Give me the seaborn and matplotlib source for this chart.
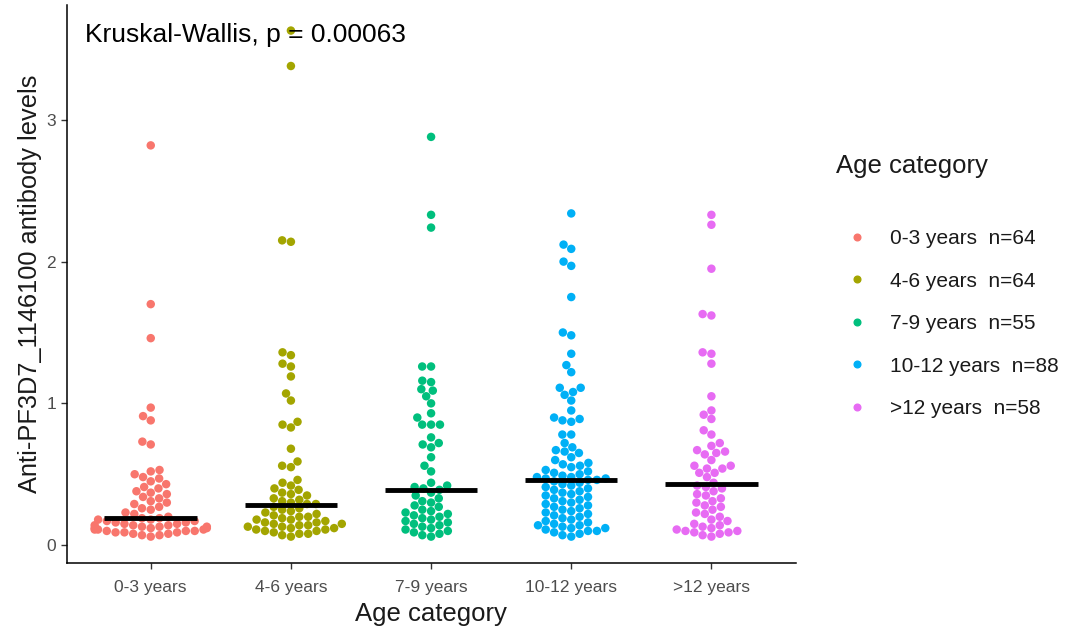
import numpy as np
import pandas as pd
import seaborn as sns
from matplotlib import pyplot as plt
from matplotlib.lines import Line2D

sns.set_style('white')
plt.rcParams['font.family'] = ['Liberation Sans', 'DejaVu Sans']

categories = ['0-3 years', '4-6 years', '7-9 years', '10-12 years', '>12 years']
colors = ['#F8766D', '#A3A500', '#00BF7D', '#00B0F6', '#E76BF3']

age_0_3 = [2.82, 1.70, 1.46, 0.97, 0.91, 0.88, 0.73, 0.71,
           0.53, 0.52, 0.50, 0.48, 0.47, 0.45, 0.43, 0.41, 0.40, 0.38, 0.37, 0.36,
           0.34, 0.33, 0.31, 0.30, 0.29, 0.27, 0.26, 0.25, 0.23, 0.22, 0.20,
           0.19, 0.19,
           0.18, 0.18, 0.17, 0.17, 0.16, 0.16, 0.15, 0.15, 0.14, 0.14, 0.14,
           0.13, 0.13, 0.13, 0.12, 0.12, 0.12, 0.11, 0.11, 0.11, 0.10, 0.10, 0.10,
           0.09, 0.09, 0.09, 0.08, 0.08, 0.07, 0.07, 0.06]
age_4_6 = [3.63, 3.38, 2.15, 2.14, 1.36, 1.34, 1.28, 1.26, 1.19, 1.07, 1.02,
           0.87, 0.85, 0.83, 0.68, 0.59, 0.56, 0.55,
           0.46, 0.44, 0.42, 0.40, 0.39, 0.37, 0.36, 0.35, 0.33, 0.32, 0.31, 0.30,
           0.29, 0.29,
           0.27, 0.26, 0.25, 0.24, 0.23, 0.22, 0.21, 0.20, 0.20, 0.19, 0.18, 0.18,
           0.17, 0.16, 0.16, 0.15, 0.15, 0.14, 0.14, 0.13, 0.13, 0.12, 0.12,
           0.11, 0.11, 0.10, 0.10, 0.09, 0.08, 0.08, 0.07, 0.06]
age_7_9 = [2.88, 2.33, 2.24, 1.26, 1.26, 1.16, 1.15, 1.10, 1.09, 1.05, 1.00,
           0.93, 0.90, 0.85, 0.85, 0.85, 0.76, 0.72, 0.71, 0.69, 0.62, 0.56, 0.52,
           0.44, 0.42, 0.41, 0.40, 0.39,
           0.37, 0.35, 0.33, 0.31, 0.30, 0.28, 0.27, 0.25, 0.24, 0.23, 0.22, 0.21,
           0.20, 0.19, 0.18, 0.17, 0.16, 0.15, 0.14, 0.13, 0.12, 0.11, 0.10, 0.09,
           0.08, 0.07, 0.06]
age_10_12 = [2.34, 2.12, 2.09, 2.00, 1.97, 1.75, 1.50, 1.48, 1.35, 1.27, 1.22,
             1.11, 1.11, 1.08, 1.06, 1.02, 0.95, 0.90, 0.89, 0.88, 0.87,
             0.78, 0.78, 0.72, 0.69, 0.67, 0.66, 0.65, 0.62, 0.60, 0.58, 0.57,
             0.56, 0.55, 0.53, 0.52, 0.51, 0.50, 0.49, 0.48, 0.48, 0.47, 0.47, 0.46,
             0.46, 0.45, 0.44, 0.43, 0.42, 0.41, 0.40, 0.39, 0.38, 0.37, 0.36, 0.35,
             0.34, 0.33, 0.32, 0.31, 0.30, 0.29, 0.28, 0.27, 0.26, 0.25, 0.24, 0.23,
             0.22, 0.21, 0.20, 0.19, 0.18, 0.17, 0.16, 0.15, 0.14, 0.14, 0.13, 0.12,
             0.12, 0.11, 0.10, 0.10, 0.09, 0.08, 0.07, 0.06]
age_12_plus = [2.33, 2.26, 1.95, 1.63, 1.62, 1.36, 1.35, 1.28, 1.05, 0.95, 0.92,
               0.89, 0.81, 0.78, 0.72, 0.70, 0.67, 0.66, 0.65, 0.64, 0.60, 0.56,
               0.56, 0.54, 0.54, 0.51, 0.51, 0.48, 0.44,
               0.42, 0.41, 0.40, 0.38, 0.36, 0.35, 0.33, 0.31, 0.30, 0.28, 0.27,
               0.25, 0.23, 0.22, 0.20, 0.18, 0.17, 0.15, 0.14, 0.13, 0.12, 0.11,
               0.10, 0.10, 0.09, 0.09, 0.08, 0.07, 0.06]

groups = [age_0_3, age_4_6, age_7_9, age_10_12, age_12_plus]
p_text = 'Kruskal-Wallis, p = 0.00063'

df = pd.concat([pd.DataFrame({'age': cat, 'level': vals})
                for cat, vals in zip(categories, groups)], ignore_index=True)
df['age'] = pd.Categorical(df['age'], categories=categories, ordered=True)

fig = plt.figure(figsize=(10.75, 6.32), dpi=100)
ax = fig.add_axes([0.062, 0.109, 0.678, 0.883])

sns.swarmplot(data=df, x='age', y='level', hue='age', palette=colors,
              size=6.1, legend=False, ax=ax, zorder=2)
# median bars only
sns.boxplot(data=df, x='age', y='level', showbox=False, showcaps=False,
            showfliers=False, whiskerprops={'visible': False},
            medianprops={'color': 'black', 'linewidth': 3.5, 'zorder': 5},
            width=0.66, ax=ax)

ax.set_xlim(-0.6, 4.6)
ax.set_ylim(-0.127, 3.81)
ax.set_yticks([0, 1, 2, 3])
ax.set_yticklabels(['0', '1', '2', '3'])
ax.tick_params(axis='both', colors='#333333', labelcolor='#4d4d4d',
               labelsize=12.5, length=4, width=1, direction='out')
ax.tick_params(axis='both', which='both', bottom=True, left=True)
ax.tick_params(axis='x', pad=8)
ax.set_xlabel('Age category', fontsize=18.5, color='#1a1a1a', labelpad=5)
ax.set_ylabel('Anti-PF3D7_1146100 antibody levels', fontsize=18.3,
              color='#1a1a1a', labelpad=3)
for side in ['top', 'right']:
    ax.spines[side].set_visible(False)
for side in ['left', 'bottom']:
    ax.spines[side].set_color('black')
    ax.spines[side].set_linewidth(1.1)

ax.text(0.025, 0.946, p_text, transform=ax.transAxes, fontsize=19,
        color='black', va='center', ha='left')

handles = [Line2D([], [], marker='o', linestyle='', color=c, markersize=4.8)
           for c in colors]
labels = [f'{cat}  n={len(vals)}' for cat, vals in zip(categories, groups)]
leg = fig.legend(handles, labels, title='Age category', frameon=False,
                 loc='upper left', bbox_to_anchor=(0.770, 0.770),
                 fontsize=15, title_fontsize=18.5, labelspacing=1.13,
                 handletextpad=0.59, borderaxespad=0)
leg._legend_box.align = 'left'
leg._legend_box.sep = 37
leg.get_title().set_color('#1a1a1a')
for t in leg.get_texts():
    t.set_color('#1a1a1a')

fig.savefig('out.png', dpi=100)
